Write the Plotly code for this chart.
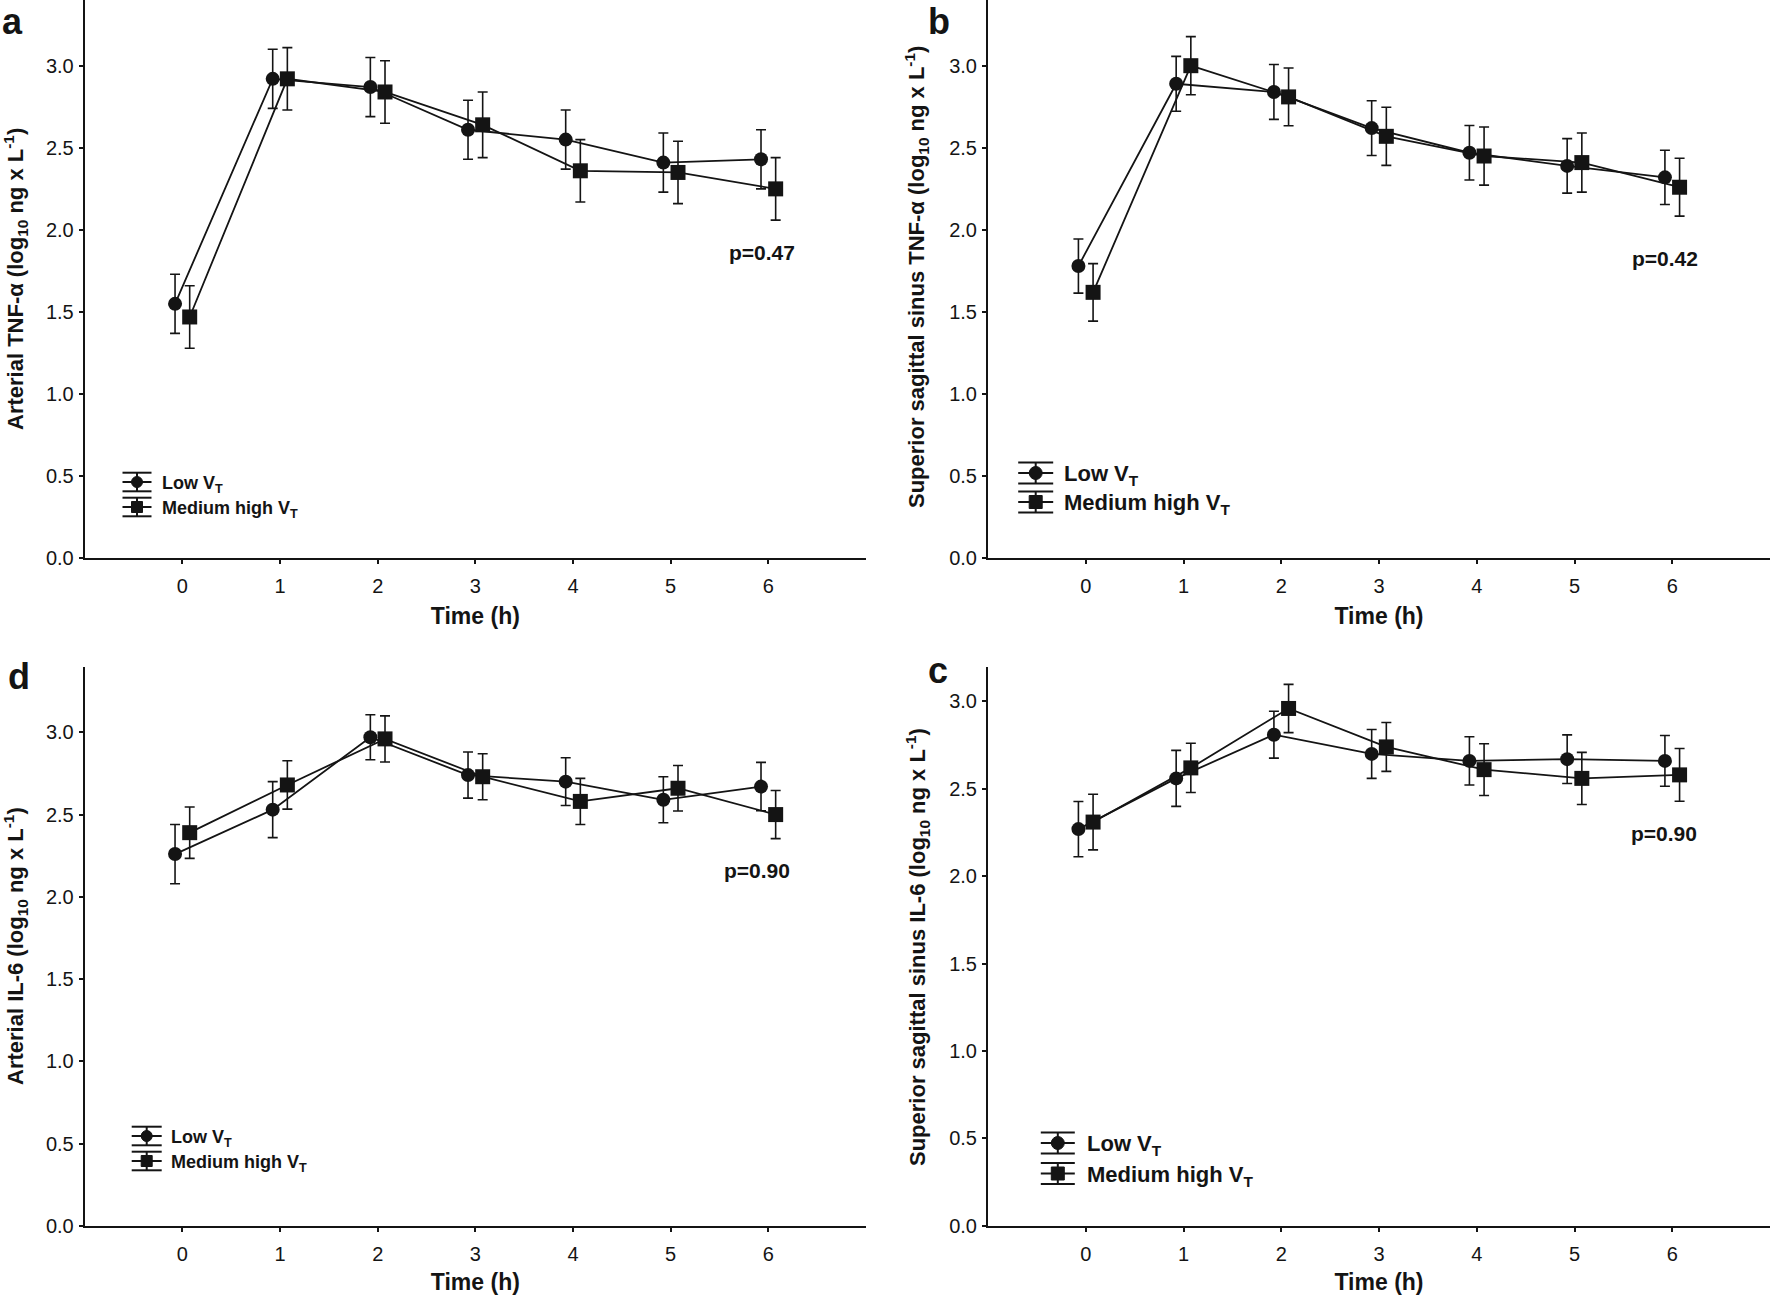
import plotly.graph_objects as go

W, H = 1770, 1295

# ---------------- data ----------------
times = [0, 1, 2, 3, 4, 5, 6]
x_tick_labels = ["0", "1", "2", "3", "4", "5", "6"]
y_tick_vals = [0.0, 0.5, 1.0, 1.5, 2.0, 2.5, 3.0]
series_names = ["Low V<sub>T</sub>", "Medium high V<sub>T</sub>"]

# a: Arterial TNF-alpha
a_low_mean = [1.55, 2.92, 2.87, 2.61, 2.55, 2.41, 2.43]
a_low_err = [0.18, 0.18, 0.18, 0.18, 0.18, 0.18, 0.18]
a_med_mean = [1.47, 2.92, 2.84, 2.64, 2.36, 2.35, 2.25]
a_med_err = [0.19, 0.19, 0.19, 0.20, 0.19, 0.19, 0.19]

# b: Superior sagittal sinus TNF-alpha
b_low_mean = [1.78, 2.89, 2.84, 2.62, 2.47, 2.39, 2.32]
b_low_err = [0.165, 0.167, 0.167, 0.167, 0.166, 0.166, 0.165]
b_med_mean = [1.62, 3.00, 2.81, 2.57, 2.45, 2.41, 2.26]
b_med_err = [0.175, 0.177, 0.176, 0.177, 0.177, 0.18, 0.176]

# d: Arterial IL-6
d_low_mean = [2.26, 2.53, 2.97, 2.74, 2.70, 2.59, 2.67]
d_low_err = [0.18, 0.17, 0.137, 0.14, 0.145, 0.14, 0.147]
d_med_mean = [2.39, 2.68, 2.96, 2.73, 2.58, 2.66, 2.50]
d_med_err = [0.156, 0.147, 0.14, 0.14, 0.14, 0.138, 0.146]

# c: Superior sagittal sinus IL-6
c_low_mean = [2.27, 2.56, 2.81, 2.70, 2.66, 2.67, 2.66]
c_low_err = [0.158, 0.16, 0.134, 0.14, 0.138, 0.139, 0.145]
c_med_mean = [2.31, 2.62, 2.96, 2.74, 2.61, 2.56, 2.58]
c_med_err = [0.159, 0.141, 0.138, 0.14, 0.148, 0.149, 0.151]

p_values = {"a": "p=0.47", "b": "p=0.42", "d": "p=0.90", "c": "p=0.90"}

y_titles = {
    "a": "Arterial TNF-\u03b1 (log<sub>10</sub> ng x L<sup>-1</sup>)",
    "b": "Superior sagittal sinus TNF-\u03b1 (log<sub>10</sub> ng x L<sup>-1</sup>)",
    "d": "Arterial IL-6 (log<sub>10</sub> ng x L<sup>-1</sup>)",
    "c": "Superior sagittal sinus IL-6 (log<sub>10</sub> ng x L<sup>-1</sup>)",
}
x_title = "Time (h)"

# ---------------- style / layout ----------------
BLACK = "#141414"
FONT = "Liberation Sans, Arial, sans-serif"
OFFSET = 0.075


def px(xp):
    return xp / W


def py(yp):
    return 1 - yp / H


def bold(size):
    return dict(family=FONT, size=size, color=BLACK, weight="bold")


panels = {
    # key: (axis suffix, x-domain px, y-domain px (top, bottom), y max, data)
    "a": ("", (84.7, 866), (0, 558.4), 3.4, (a_low_mean, a_low_err, a_med_mean, a_med_err)),
    "b": ("2", (988, 1770), (0, 558.4), 3.4, (b_low_mean, b_low_err, b_med_mean, b_med_err)),
    "d": ("3", (84.7, 866), (666.5, 1225.9), 3.4, (d_low_mean, d_low_err, d_med_mean, d_med_err)),
    "c": ("4", (988, 1770), (666.5, 1225.9), 3.2, (c_low_mean, c_low_err, c_med_mean, c_med_err)),
}

fig = go.Figure()
layout_axes = {}

for key, (suf, (x0, x1), (yt, yb), ymax, data) in panels.items():
    lm, le, mm, me = data
    xa = "x" + suf
    ya = "y" + suf
    fig.add_trace(go.Scatter(
        x=[t - OFFSET for t in times], y=lm, xaxis=xa, yaxis=ya,
        mode="lines+markers", name=series_names[0], showlegend=False,
        line=dict(color=BLACK, width=1.8),
        marker=dict(symbol="circle", size=14, color=BLACK),
        error_y=dict(type="data", array=le, visible=True, color=BLACK, thickness=1.6, width=5),
        cliponaxis=False,
    ))
    fig.add_trace(go.Scatter(
        x=[t + OFFSET for t in times], y=mm, xaxis=xa, yaxis=ya,
        mode="lines+markers", name=series_names[1], showlegend=False,
        line=dict(color=BLACK, width=1.8),
        marker=dict(symbol="square", size=15, color=BLACK),
        error_y=dict(type="data", array=me, visible=True, color=BLACK, thickness=1.6, width=5),
        cliponaxis=False,
    ))
    layout_axes["xaxis" + suf] = dict(
        domain=[px(x0), px(x1)], anchor=ya, range=[-1, 7],
        tickvals=times, ticktext=x_tick_labels,
        ticks="outside", ticklen=4, tickwidth=1.5, tickcolor=BLACK,
        showline=True, linecolor=BLACK, linewidth=2, showgrid=False, zeroline=False,
        tickfont=dict(family=FONT, size=20, color=BLACK), ticklabelstandoff=5,
        title=dict(text=x_title, font=bold(23), standoff=11),
        automargin=False,
    )
    layout_axes["yaxis" + suf] = dict(
        domain=[py(yb), py(yt)], anchor=xa, range=[0, ymax],
        tickvals=y_tick_vals, ticktext=[f"{v:.1f}" for v in y_tick_vals],
        ticks="outside", ticklen=4, tickwidth=1.5, tickcolor=BLACK,
        showline=True, linecolor=BLACK, linewidth=2, showgrid=False, zeroline=False,
        tickfont=dict(family=FONT, size=20, color=BLACK), ticklabelstandoff=1,
        automargin=False,
    )

fig.update_layout(
    width=W, height=H, margin=dict(l=0, r=0, t=0, b=0, pad=0),
    paper_bgcolor="white", plot_bgcolor="white", showlegend=False,
    **layout_axes,
)

annotations = []
shapes = []

# panel letters: (x left px, y top px)
letters = {"a": (1, 0), "b": (927, 0), "d": (7, 655), "c": (927, 649)}
for k, (lx, ly) in letters.items():
    annotations.append(dict(text=k, x=px(lx), y=py(ly), xref="paper", yref="paper",
                            xanchor="left", yanchor="top", borderpad=0, showarrow=False,
                            font=bold(36)))

# y titles (x center px, y center px)
ytitle_pos = {"a": (15, 279), "b": (917, 277), "d": (15, 946), "c": (917, 947)}
for k, (tx, ty) in ytitle_pos.items():
    annotations.append(dict(text=y_titles[k], x=px(tx), y=py(ty), xref="paper", yref="paper",
                            xanchor="center", yanchor="middle", textangle=-90, showarrow=False,
                            font=bold(22)))

# p values
p_pos = {"a": (762, 252), "b": (1665, 258), "d": (757, 870), "c": (1664, 833)}
for k, (tx, ty) in p_pos.items():
    annotations.append(dict(text=p_values[k], x=px(tx), y=py(ty), xref="paper", yref="paper",
                            xanchor="center", yanchor="middle", showarrow=False, font=bold(21)))

# in-panel legends: cx, half width, [row mid y], cap offset, marker radius, text x, font size
legends = {
    "a": (137, 14.5, [482, 507], 9.3, 5.5, 160, 18),
    "b": (1035.7, 17.5, [473, 502], 10.5, 6.5, 1062, 22),
    "d": (146.7, 15, [1136, 1161], 9.3, 5.5, 169, 18),
    "c": (1057.8, 17, [1143, 1173.5], 10.5, 6.5, 1085, 22),
}
for k, (cx, hw, rows, cap, r, tx, fs) in legends.items():
    for i, my in enumerate(rows):
        for yy in (my - cap, my, my + cap):
            shapes.append(dict(type="line", xref="paper", yref="paper",
                               x0=px(cx - hw), x1=px(cx + hw), y0=py(yy), y1=py(yy),
                               line=dict(color=BLACK, width=2)))
        shapes.append(dict(type="line", xref="paper", yref="paper",
                           x0=px(cx), x1=px(cx), y0=py(my - cap), y1=py(my + cap),
                           line=dict(color=BLACK, width=2)))
        shapes.append(dict(type="circle" if i == 0 else "rect", xref="paper", yref="paper",
                           x0=px(cx - r), x1=px(cx + r), y0=py(my - r), y1=py(my + r),
                           line=dict(color=BLACK, width=1), fillcolor=BLACK))
        annotations.append(dict(text=series_names[i], x=px(tx), y=py(my + 2), xref="paper",
                                yref="paper", xanchor="left", yanchor="middle", showarrow=False,
                                font=bold(fs)))

fig.update_layout(annotations=annotations, shapes=shapes)
fig.write_html(
    "out.html",
    config={"displayModeBar": False},
    post_script="document.body.style.margin='0';document.body.style.padding='0';",
)
